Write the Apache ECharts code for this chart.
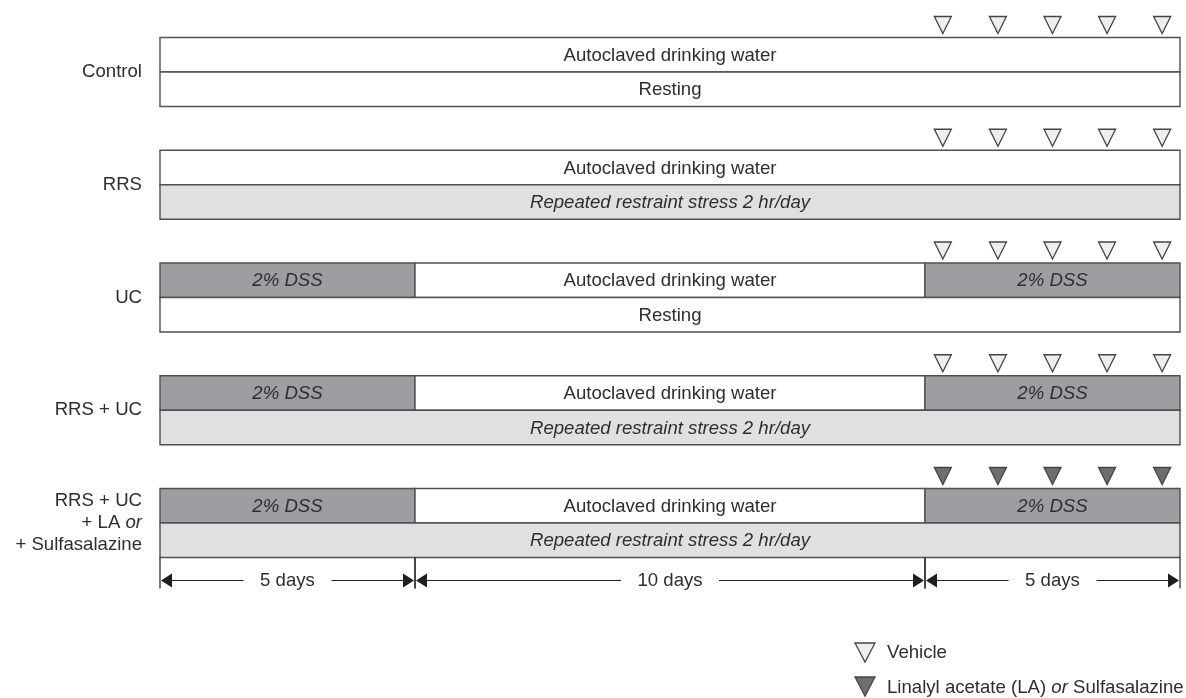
<!DOCTYPE html>
<html>
<head>
<meta charset="utf-8">
<script src="https://cdn.jsdelivr.net/npm/echarts@6/dist/echarts.min.js"></script>
<style>
html,body{margin:0;padding:0;background:#fff;}
#chart{width:1186px;height:698px;}
</style>
</head>
<body>
<div id="chart"></div>
<script>
// ---------- data ----------
const groups = ['Control', 'RRS', 'UC', 'RRS + UC', 'RRS + UC\n+ LA or\n+ Sulfasalazine'];
// top row (drinking water): [groupIndex, startDay, endDay]
const waterSegments = [
  [0, 0, 20], [1, 0, 20],
  [2, 0, 5], [2, 5, 15], [2, 15, 20],
  [3, 0, 5], [3, 5, 15], [3, 15, 20],
  [4, 0, 5], [4, 5, 15], [4, 15, 20]
];
const waterKinds = ['water', 'water', 'dss', 'water', 'dss', 'dss', 'water', 'dss', 'dss', 'water', 'dss'];
// bottom row (stress): [groupIndex, startDay, endDay]
const stressSegments = [[0, 0, 20], [1, 0, 20], [2, 0, 20], [3, 0, 20], [4, 0, 20]];
const stressKinds = ['rest', 'stress', 'rest', 'stress', 'stress'];
const kindLabels = {
  water: 'Autoclaved drinking water',
  dss: '2% DSS',
  rest: 'Resting',
  stress: 'Repeated restraint stress 2 hr/day'
};
const doseDays = [15.35, 16.43, 17.5, 18.57, 19.65];
const groupTreatment = ['vehicle', 'vehicle', 'vehicle', 'vehicle', 'drug'];
const periods = [[0, 5], [5, 15], [15, 20]];
const periodLabels = ['5 days', '10 days', '5 days'];
const legendLabels = ['Vehicle', 'Linalyl acetate (LA) {i|or} Sulfasalazine'];

// ---------- styles ----------
const FONT = '"Liberation Sans", Arial, Helvetica, sans-serif';
const FS = 18.6;
const ROW_H = 34.5;
const fills = { water: '#ffffff', dss: '#9d9ea1', rest: '#ffffff', stress: '#dfe0e2' };
const italicKinds = { dss: true, stress: true };
const triFill = { vehicle: '#eeeeee', drug: '#6e6e6e' };
const STROKE = '#505050';
const TXT = '#2e2e2e';

// build custom-series data
const segData = [];
const segKinds = [];
waterSegments.forEach((s, i) => { segData.push([s[1], s[2], s[0], 0]); segKinds.push(waterKinds[i]); });
stressSegments.forEach((s, i) => { segData.push([s[1], s[2], s[0], 1]); segKinds.push(stressKinds[i]); });

const doseData = [];
groups.forEach((g, gi) => doseDays.forEach(d => doseData.push([d, gi])));

function renderSegment(params, api) {
  const s = api.value(0), e = api.value(1), g = api.value(2), row = api.value(3);
  const kind = segKinds[params.dataIndex];
  const p0 = api.coord([s, g]);
  const p1 = api.coord([e, g]);
  const y = p0[1] - ROW_H + row * ROW_H;
  return {
    type: 'group',
    children: [
      { type: 'rect', shape: { x: p0[0], y: y, width: p1[0] - p0[0], height: ROW_H },
        style: { fill: fills[kind], stroke: STROKE, lineWidth: 1.4 } },
      { type: 'text', z2: 10,
        style: { text: kindLabels[kind], x: (p0[0] + p1[0]) / 2, y: y + ROW_H / 2 + 1,
          align: 'center', verticalAlign: 'middle', fill: TXT,
          font: (italicKinds[kind] ? 'italic ' : '') + FS + 'px ' + FONT } }
    ]
  };
}

function renderDose(params, api) {
  const d = api.value(0), g = api.value(1);
  const p = api.coord([d, g]);
  const top = p[1] - ROW_H;
  const tipY = top - 4, baseY = top - 21, hw = 8.5;
  return {
    type: 'polygon',
    shape: { points: [[p[0] - hw, baseY], [p[0] + hw, baseY], [p[0], tipY]] },
    style: { fill: triFill[groupTreatment[g]], stroke: '#444', lineWidth: 1.3 }
  };
}

function renderPeriod(params, api) {
  const s = api.value(0), e = api.value(1);
  const last = groups.length - 1;
  const p0 = api.coord([s, last]);
  const p1 = api.coord([e, last]);
  const bottom = p0[1] + ROW_H;
  const ay = bottom + 23;
  const x0 = p0[0], x1 = p1[0];
  const label = periodLabels[params.dataIndex];
  const mid = (x0 + x1) / 2;
  const gap = label.length * 5 + 14;
  const ls = { stroke: '#222', lineWidth: 1.2 };
  const children = [
    { type: 'line', shape: { x1: x0, y1: bottom, x2: x0, y2: bottom + 31 }, style: ls },
    { type: 'line', shape: { x1: x1, y1: bottom, x2: x1, y2: bottom + 31 }, style: ls },
    { type: 'line', shape: { x1: x0 + 6, y1: ay, x2: mid - gap, y2: ay }, style: ls },
    { type: 'line', shape: { x1: mid + gap, y1: ay, x2: x1 - 6, y2: ay }, style: ls },
    { type: 'polygon', shape: { points: [[x0 + 1, ay], [x0 + 12, ay - 7], [x0 + 12, ay + 7]] }, style: { fill: '#1e1e1e' } },
    { type: 'polygon', shape: { points: [[x1 - 1, ay], [x1 - 12, ay - 7], [x1 - 12, ay + 7]] }, style: { fill: '#1e1e1e' } },
    { type: 'text', style: { text: label, x: mid, y: ay, align: 'center', verticalAlign: 'middle',
        fill: TXT, font: FS + 'px ' + FONT } }
  ];
  return { type: 'group', children };
}

const chart = echarts.init(document.getElementById('chart'), null, { renderer: 'canvas' });
const option = {
  backgroundColor: '#ffffff',
  animation: false,
  grid: { left: 160, right: 6, top: 15.6, bottom: 118.6, containLabel: false, outerBoundsMode: 'none' },
  xAxis: { type: 'value', min: 0, max: 20, show: false },
  yAxis: {
    type: 'category', data: groups, inverse: true,
    axisLine: { show: false }, axisTick: { show: false }, splitLine: { show: false },
    axisLabel: {
      margin: 18, fontSize: FS, lineHeight: 22, color: TXT, fontFamily: FONT, align: 'right',
      formatter: v => v.replace(' or', ' {i|or}'),
      rich: { i: { fontStyle: 'italic', fontSize: FS, lineHeight: 22, color: TXT, fontFamily: FONT } }
    }
  },
  series: [
    { type: 'custom', name: 'segments', clip: false, renderItem: renderSegment, data: segData, z: 2 },
    { type: 'custom', name: 'doses', clip: false, renderItem: renderDose, data: doseData, z: 3 },
    { type: 'custom', name: 'periods', clip: false, renderItem: renderPeriod, data: periods, z: 3 }
  ],
  graphic: [
    { type: 'polygon', shape: { points: [[855, 643], [875, 643], [865, 662]] },
      style: { fill: triFill.vehicle, stroke: '#444', lineWidth: 1.3 } },
    { type: 'text', left: 887, top: 643,
      style: { text: legendLabels[0], fill: TXT, font: FS + 'px ' + FONT } },
    { type: 'polygon', shape: { points: [[855, 677], [875, 677], [865, 696]] },
      style: { fill: triFill.drug, stroke: '#444', lineWidth: 1.3 } },
    { type: 'text', left: 887, top: 678,
      style: { text: legendLabels[1], fill: TXT, font: FS + 'px ' + FONT,
        rich: { i: { fontStyle: 'italic', fill: TXT, font: 'italic ' + FS + 'px ' + FONT } } } }
  ]
};
chart.setOption(option);
</script>
</body>
</html>
